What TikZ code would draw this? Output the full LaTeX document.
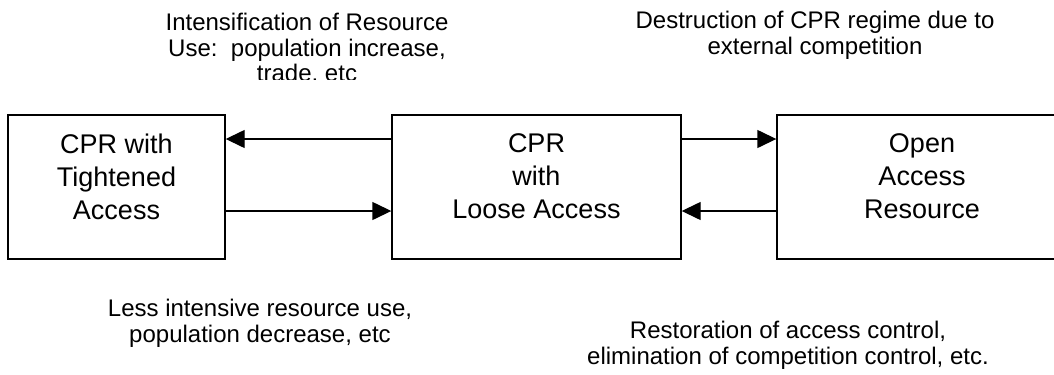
\documentclass[tikz,border=0pt]{standalone}
\usepackage{fontspec}
\setmainfont{Liberation Sans}
\usetikzlibrary{arrows.meta}
% invisible depth so the box labels sit in the upper part of each box
\newcommand\boxpad{\rule[-21bp]{0pt}{21bp}}
\begin{document}
\begin{tikzpicture}[x=1bp,y=-1bp,
  panel/.style={draw, line width=1.4bp, minimum height=144bp, inner sep=0pt,
    align=center, font=\fontsize{27bp}{33bp}\selectfont},
  note/.style={align=center, inner sep=0pt, anchor=base,
    font=\fontsize{24bp}{25.5bp}\selectfont},
  flow/.style={line width=1.4bp, -{Triangle[length=19bp,width=18bp]}}]
\useasboundingbox (0,0) rectangle (1054,374);
\clip (0,0) rectangle (1054,374);

% the three regimes
\node[panel, minimum width=217bp] (tight) at (116.5,187) {CPR with\\Tightened\\Access\boxpad};
\node[panel, minimum width=289bp] (loose) at (536.5,187) {CPR\\with\\Loose Access\boxpad};
\node[panel, minimum width=290bp] (open)  at (922,187)   {Open\\Access\\Resource\boxpad};

% transitions between regimes
\draw[flow] ([yshift=48bp]loose.west) -- ([yshift=48bp]tight.east);
\draw[flow] ([yshift=-24bp]tight.east) -- ([yshift=-24bp]loose.west);
\draw[flow] ([yshift=48bp]loose.east) -- ([yshift=48bp]open.west);
\draw[flow] ([yshift=-24bp]open.west) -- ([yshift=-24bp]loose.east);

% drivers of each transition (base anchor = baseline of the last line)
\begin{scope}
  \clip (0,0) rectangle (1054,79.5);
  \node[note] (intens) at (307,81.5) {Intensification of Resource\\Use:\ \ population increase,\\trade, etc};
\end{scope}
\node[note] (destr) at (815,54) {Destruction of CPR regime due to\\external competition};
\node[note] (less)  at (260,342) {Less intensive resource use,\\population decrease, etc};
\node[note] (resto) at (788,364) {Restoration of access control,\\elimination of competition control, etc.};
\end{tikzpicture}
\end{document}
